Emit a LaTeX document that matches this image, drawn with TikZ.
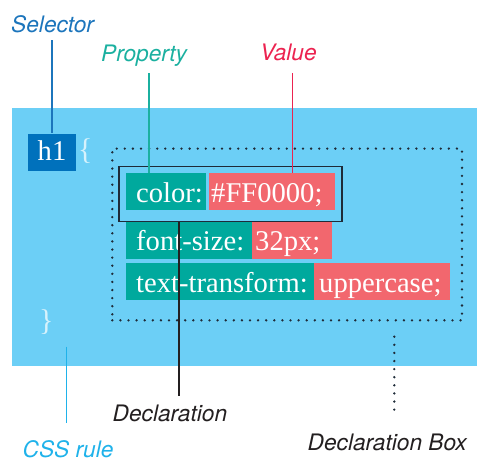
\documentclass[tikz,border=0pt]{standalone}
\usepackage{fontspec}
\setmainfont{Liberation Serif}
\newfontfamily\lblfont{TeX Gyre Heros}
\definecolor{bgblue}{HTML}{6CCFF6}
\definecolor{selblue}{HTML}{0071BC}
\definecolor{seltext}{HTML}{1C75BC}
\definecolor{tealbox}{HTML}{00A99D}
\definecolor{proptext}{HTML}{1BB0A0}
\definecolor{redbox}{HTML}{F2676E}
\definecolor{valtext}{HTML}{EC2350}
\definecolor{darktext}{HTML}{231F20}
\definecolor{csstext}{HTML}{1FB2EA}
\definecolor{dotcol}{HTML}{1E2B38}
\definecolor{bracecol}{HTML}{D6F2FC}
\begin{document}
\begin{tikzpicture}[x=1pt,y=-1pt,
  code/.style={font=\fontsize{28.6}{30}\selectfont, text=white, inner sep=0pt,
    minimum height=37.5pt, text height=23pt, text depth=1pt, align=left, anchor=north west},
  propbox/.style={code, fill=tealbox},
  valbox/.style={code, fill=redbox},
  lbl/.style={font=\lblfont\itshape\fontsize{22.7}{24}\selectfont, inner sep=0pt, anchor=base west},
  dots/.style={line width=2.6pt, dash pattern=on 0pt off 8.1pt, line cap=round, draw=dotcol},
  brace/.style={font=\fontsize{30}{32}\selectfont, text=bracecol, inner sep=0pt, anchor=base west},
  leader/.style={line width=1.3pt}
]
\useasboundingbox (0,0) rectangle (477,461);
% background rule area
\node[fill=bgblue, inner sep=0pt, minimum width=465pt, minimum height=257.7pt, anchor=north west] (rule) at (12,108) {};
% selector
\node[fill=selblue, text=white, font=\fontsize{28.6}{30}\selectfont, inner sep=0pt,
  minimum width=47.7pt, minimum height=37.4pt, text height=20pt, text depth=4pt, anchor=north west] (h1) at (28,133.3) {h1};
\node[brace] (ob) at (78,159) {\{};
\node[brace] (cb) at (39,330.5) {\}};
% declaration box (dotted)
\node[dots, inner sep=0pt, minimum width=349.7pt, minimum height=171.7pt, anchor=north west] (dbox) at (111,147.3) {};
% declarations
\node[propbox, text width=79.7pt] (p1) at (126,172.7) {\hspace*{10pt}color:};
\node[valbox, text width=126pt] (v1) at (209,172.7) {\hspace*{2pt}\#FF0000;};
\node[propbox, text width=126pt] (p2) at (126,221) {\hspace*{10pt}font-size:};
\node[valbox, text width=79.7pt] (v2) at (252,221) {\hspace*{3pt}32px;};
\node[propbox, text width=188pt] (p3) at (126,262.3) {\hspace*{10pt}text-transform:};
\node[valbox, text width=136pt] (v3) at (314,262.3) {\hspace*{5pt}uppercase;};
% single declaration frame
\node[draw=dotcol, line width=1.6pt, inner sep=0pt, minimum width=222.7pt, minimum height=55pt, anchor=north west] (decl) at (118.3,165.7) {};
% labels
\node[lbl, text=seltext] (sel) at (11,32.3) {Selector};
\node[lbl, text=proptext] (prop) at (101,61.7) {Property};
\node[lbl, text=valtext] (val) at (260,60.7) {Value};
\node[lbl, text=darktext] (decll) at (112.5,421.7) {Declaration};
\node[lbl, text=csstext] (css) at (22.5,457.5) {CSS rule};
\node[lbl, text=darktext] (dboxl) at (307.5,450.7) {Declaration Box};
% leader lines
\coordinate (selTop) at (52,40);
\draw[leader, draw=seltext] (selTop) -- (selTop |- h1.north);
\coordinate (propTop) at (149,73);
\draw[leader, draw=proptext] (propTop) -- (propTop |- p1.north);
\coordinate (valTop) at (292.3,73);
\draw[leader, draw=valtext] (valTop) -- (valTop |- v1.north);
\coordinate (declBot) at (179,396);
\draw[leader, draw=darktext] (declBot |- decl.south) -- (declBot);
\coordinate (cssTop) at (66.7,346.7);
\coordinate (cssBot) at (66.7,422.7);
\draw[leader, draw=csstext] (cssTop) -- (cssBot);
\coordinate (dbTop) at (394.3,336.7);
\coordinate (dbBot) at (394.3,415);
\draw[dots] (dbTop) -- (dbBot);
\end{tikzpicture}
\end{document}
